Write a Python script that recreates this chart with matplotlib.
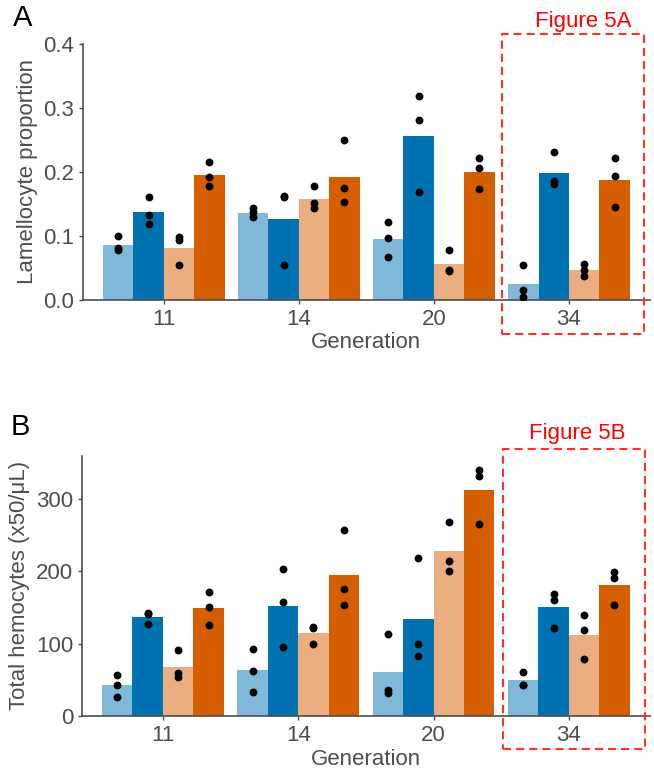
import matplotlib
matplotlib.use("Agg")
import matplotlib.pyplot as plt
from matplotlib.patches import Rectangle
import numpy as np

plt.rcParams['font.family'] = ['Liberation Sans', 'DejaVu Sans']

generations = ['11', '14', '20', '34']
series = ['s1', 's2', 's3', 's4']
colors = ['#80B8D9', '#0072B2', '#EAAE80', '#D55E00']

# Panel A: lamellocyte proportion (bar means)
lam_s1 = [0.086, 0.136, 0.095, 0.024]
lam_s2 = [0.137, 0.126, 0.255, 0.198]
lam_s3 = [0.081, 0.157, 0.056, 0.046]
lam_s4 = [0.195, 0.191, 0.200, 0.187]
# Panel A replicate points
lam_pts_s1 = [[0.100, 0.080, 0.077], [0.143, 0.137, 0.129], [0.121, 0.096, 0.067], [0.055, 0.015, 0.004]]
lam_pts_s2 = [[0.161, 0.133, 0.118], [0.161, 0.162, 0.054], [0.319, 0.280, 0.168], [0.231, 0.186, 0.181]]
lam_pts_s3 = [[0.098, 0.094, 0.054], [0.178, 0.151, 0.144], [0.078, 0.046, 0.045], [0.056, 0.046, 0.037]]
lam_pts_s4 = [[0.215, 0.192, 0.178], [0.249, 0.174, 0.152], [0.222, 0.205, 0.173], [0.222, 0.193, 0.145]]

# Panel B: total hemocytes (bar means)
hem_s1 = [42, 63, 60, 49]
hem_s2 = [137, 152, 134, 150]
hem_s3 = [68, 114, 228, 112]
hem_s4 = [149, 195, 313, 181]
hem_pts_s1 = [[57, 43, 26], [93, 62, 33], [113, 35, 32], [61, 43, 42]]
hem_pts_s2 = [[142, 141, 127], [203, 158, 95], [218, 100, 83], [169, 161, 121]]
hem_pts_s3 = [[91, 59, 54], [123, 121, 99], [269, 215, 200], [139, 119, 78]]
hem_pts_s4 = [[172, 151, 126], [257, 175, 154], [341, 332, 266], [199, 191, 153]]

W, H = 654, 769
fig = plt.figure(figsize=(W / 100, H / 100), dpi=100)

GRAY = '#4D4D4D'


def px_axes(x0, x1, ytop, ybot):
    return fig.add_axes([x0 / W, 1 - ybot / H, (x1 - x0) / W, (ybot - ytop) / H])


def draw_panel(ax, bars, pts, ylim, yticks, yticklabels, ylabel, ylabel_x):
    x = np.arange(1, len(generations) + 1)
    bw = 0.9 / 4
    for i, (vals, p, c) in enumerate(zip(bars, pts, colors)):
        off = (i - 1.5) * bw
        ax.bar(x + off, vals, width=bw, color=c, linewidth=0, zorder=2)
        for j, grp in enumerate(p):
            ax.scatter([x[j] + off] * len(grp), grp, s=32, color='black', zorder=3, linewidths=0)
    ax.set_xlim(0.4, 4.6)
    ax.set_ylim(*ylim)
    ax.set_xticks(x)
    ax.set_xticklabels(generations)
    ax.set_yticks(yticks)
    ax.set_yticklabels(yticklabels)
    for s in ['top', 'right']:
        ax.spines[s].set_visible(False)
    for s in ['left', 'bottom']:
        ax.spines[s].set_color(GRAY)
        ax.spines[s].set_linewidth(1.2)
    ax.tick_params(axis='both', colors=GRAY, labelcolor=GRAY, labelsize=16, length=3, width=1.0)
    ax.tick_params(axis='x', pad=4)
    ax.tick_params(axis='y', pad=3)
    ax.set_xlabel('Generation', fontsize=16, color=GRAY)
    ax.xaxis.label.set_va('center')
    ax.xaxis.set_label_coords(0.5, -0.168)
    ax.set_ylabel(ylabel, fontsize=16, color=GRAY)
    ax.yaxis.label.set_va('center')
    ax.yaxis.set_label_coords(ylabel_x, 0.5)


axA = px_axes(82.7, 650, 43.7, 299.7)
draw_panel(axA, [lam_s1, lam_s2, lam_s3, lam_s4],
           [lam_pts_s1, lam_pts_s2, lam_pts_s3, lam_pts_s4],
           (0, 0.4), [0, 0.1, 0.2, 0.3, 0.4], ['0.0', '0.1', '0.2', '0.3', '0.4'],
           'Lamellocyte proportion', -0.097)

axB = px_axes(81.7, 650, 456, 715.7)
draw_panel(axB, [hem_s1, hem_s2, hem_s3, hem_s4],
           [hem_pts_s1, hem_pts_s2, hem_pts_s3, hem_pts_s4],
           (0, 360), [0, 100, 200, 300], ['0', '100', '200', '300'],
           'Total hemocytes (x50/\u03bcL)', -0.110)

# Panel letters
fig.text(13 / W, 1 - 26 / H, 'A', fontsize=21, color='black', ha='left', va='baseline')
fig.text(10.5 / W, 1 - 435 / H, 'B', fontsize=21, color='black', ha='left', va='baseline')

# Red annotations
fig.text(535 / W, 1 - 26.7 / H, 'Figure 5A', fontsize=16, color='#FF0000', ha='left', va='baseline')
fig.text(529.3 / W, 1 - 439.3 / H, 'Figure 5B', fontsize=16, color='#FF0000', ha='left', va='baseline')


def red_box(x0, x1, ytop, ybot):
    r = Rectangle((x0 / W, 1 - ybot / H), (x1 - x0) / W, (ybot - ytop) / H,
                  transform=fig.transFigure, fill=False, edgecolor='#FF3322',
                  linewidth=1.5, linestyle=(0, (3.9, 2.4)), zorder=10)
    fig.add_artist(r)


red_box(501.7, 644, 34.3, 334.3)
red_box(502.7, 645, 449, 749)

fig.savefig('out.png', dpi=100)
